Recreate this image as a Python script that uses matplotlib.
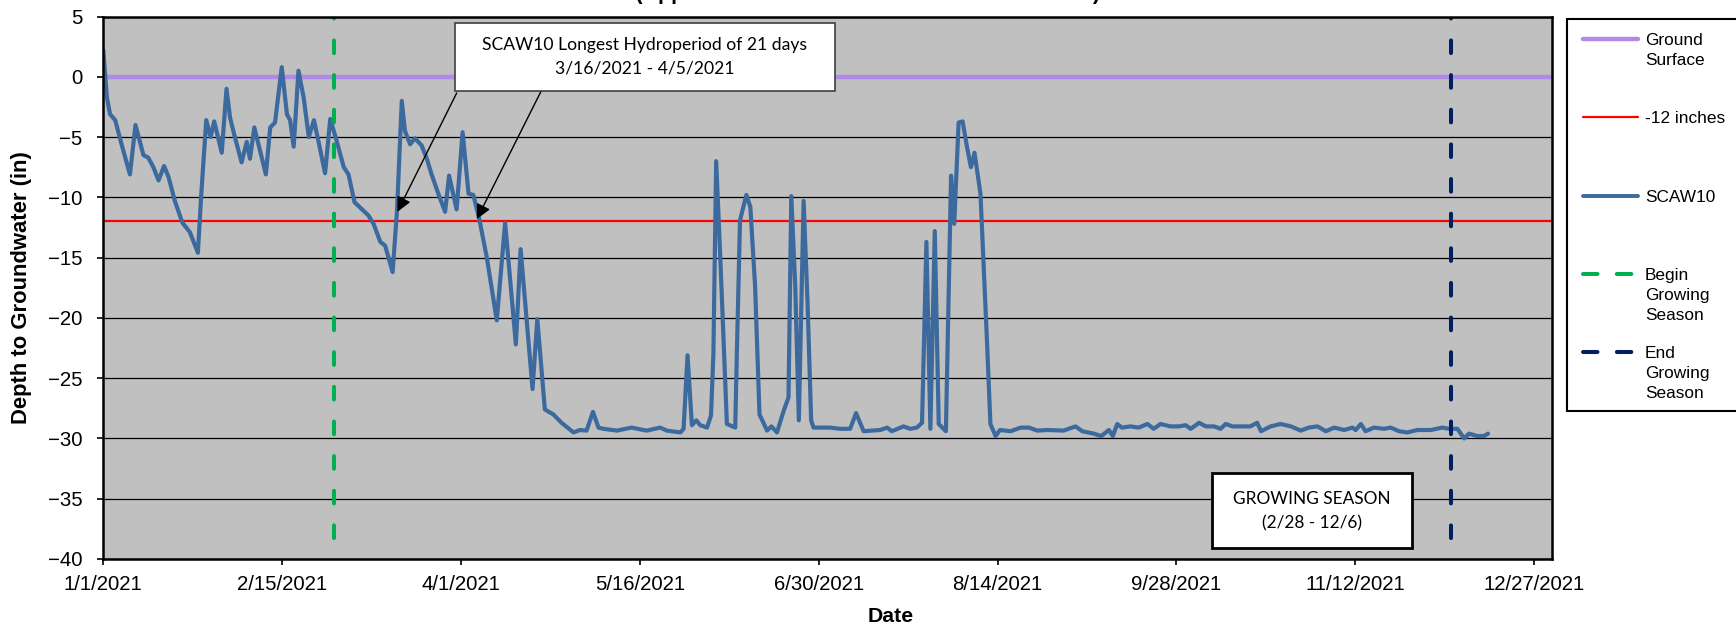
import datetime as dt

import matplotlib
matplotlib.use("Agg")
import matplotlib.pyplot as plt
import matplotlib.dates as mdates
from matplotlib.lines import Line2D
from matplotlib.patches import Rectangle
from matplotlib.ticker import FixedLocator, FuncFormatter

plt.rcParams["font.family"] = ["Liberation Sans", "DejaVu Sans"]

W, H = 1736, 631
START = dt.datetime(2021, 1, 1)

# SCAW10 readings, days after 1/1/2021 and depth (in)
obs_day = [
    0, 0.9, 1.7, 3.0, 4.6, 6.7, 8.1, 10.1, 11.3, 12.6, 13.9, 15.3, 16.4, 18.0,
    19.9, 21.8, 23.8, 24.6, 25.9, 27.0, 27.9, 29.8, 31.0, 31.9, 33.1, 34.8,
    36.1, 36.9, 38.0, 39.2, 40.9, 42.0, 43.2, 44.9, 46.2, 47.0, 47.9, 49.1,
    50.4, 51.7, 53.0, 54.1, 55.8, 57.1, 58.7, 60.5, 61.7, 63.2, 66.7, 68.0,
    69.7, 70.9, 72.8, 73.9, 75.1, 75.9, 77.2, 78.4, 80.1, 81.4, 82.6, 84.3,
    86.0, 87.0, 88.9, 90.4, 91.9, 93.1, 94.6, 96.5, 99.0, 101.1, 103.8, 105.0,
    108.0, 109.2, 111.1, 113.2, 115.3, 118.3, 119.9, 121.6, 123.2, 124.6,
    125.8, 129.2, 132.9, 136.7, 140.1, 141.8, 145.2, 146.0, 147.0, 148.1,
    149.2, 150.2, 151.9, 152.9, 153.5, 154.2, 155.2, 156.9, 159.0, 159.4,
    160.2, 161.8, 162.8, 164.0, 165.1, 167.0, 168.1, 169.5, 171.2, 172.4,
    173.1, 174.1, 175.0, 176.2, 177.2, 178.1, 178.7, 180.0, 182.9, 185.4,
    187.9, 189.4, 191.3, 195.5, 197.2, 198.4, 201.3, 203.0, 204.7, 206.0,
    207.1, 208.1, 209.2, 210.2, 212.0, 213.3, 214.1, 215.2, 216.2, 217.3,
    218.3, 219.2, 220.7, 222.4, 223.2, 224.5, 225.6, 228.3, 230.8, 232.9,
    235.0, 237.6, 241.6, 244.6, 246.3, 249.2, 251.1, 253.0, 254.0, 255.1,
    256.3, 258.4, 260.5, 262.7, 264.3, 266.0, 268.5, 270.6, 272.3, 273.6,
    275.7, 277.4, 279.5, 281.1, 282.4, 284.1, 286.6, 288.6, 290.3, 291.3,
    293.7, 296.2, 298.8, 301.3, 303.3, 305.5, 307.6, 309.7, 312.2, 314.3,
    315.1, 316.4, 317.6, 319.7, 322.2, 323.9, 326.0, 328.1, 330.6, 334.0,
    336.9, 338.6, 340.7, 342.4, 343.6, 345.7, 347.4, 348.4,
]
depth_in = [
    2.2, -1.7, -3.1, -3.6, -5.6, -8.1, -4.0, -6.5, -6.7, -7.5, -8.6, -7.4,
    -8.3, -10.3, -12.1, -12.9, -14.6, -10.0, -3.6, -5.0, -3.7, -6.3, -1.0,
    -3.4, -5.0, -7.1, -5.4, -6.8, -4.2, -5.8, -8.1, -4.2, -3.8, 0.8, -3.1,
    -3.6, -5.8, 0.5, -1.7, -5.0, -3.6, -5.3, -8.0, -3.5, -5.3, -7.5, -8.1,
    -10.4, -11.5, -12.2, -13.7, -14.0, -16.2, -11.1, -2.0, -4.5, -5.6, -5.1,
    -5.7, -6.8, -8.1, -9.7, -11.2, -8.2, -11.0, -4.6, -9.7, -9.8, -11.8,
    -15.0, -20.2, -12.1, -22.2, -14.3, -25.9, -20.1, -27.6, -28.0, -28.7,
    -29.5, -29.3, -29.35, -27.8, -29.1, -29.2, -29.35, -29.1, -29.35, -29.1,
    -29.35, -29.5, -29.2, -23.1, -28.9, -28.5, -28.9, -29.1, -28.1, -23.0,
    -7.0, -14.7, -28.8, -29.1, -23.0, -11.9, -9.8, -10.8, -17.4, -28.0,
    -29.35, -29.0, -29.5, -27.7, -26.6, -9.9, -17.4, -28.5, -10.3, -18.8,
    -28.5, -29.1, -29.1, -29.1, -29.2, -29.2, -27.9, -29.4, -29.3, -29.1,
    -29.4, -29.0, -29.2, -29.1, -28.7, -13.7, -29.2, -12.8, -28.8, -29.4,
    -8.2, -12.2, -3.8, -3.7, -5.8, -7.5, -6.3, -9.7, -22.4, -28.8, -29.8,
    -29.3, -29.4, -29.1, -29.1, -29.35, -29.3, -29.35, -29.0, -29.4, -29.6,
    -29.8, -29.3, -29.8, -28.8, -29.1, -29.0, -29.1, -28.8, -29.2, -28.8,
    -29.0, -29.0, -28.9, -29.2, -28.7, -29.0, -29.0, -29.2, -28.8, -29.0,
    -29.0, -29.0, -28.7, -29.4, -29.0, -28.8, -29.0, -29.35, -29.1, -29.0,
    -29.4, -29.1, -29.3, -29.1, -29.3, -28.8, -29.4, -29.1, -29.2, -29.1,
    -29.4, -29.5, -29.3, -29.3, -29.1, -29.2, -29.2, -30.0, -29.6, -29.8,
    -29.8, -29.6,
]

ground_surface = 0
threshold_in = -12
season_begin = dt.datetime(2021, 2, 28)
season_end = dt.datetime(2021, 12, 6)
hydro_marks = [(dt.datetime(2021, 3, 16), -11.2), (dt.datetime(2021, 4, 5), -11.8)]
tick_dates = [START + dt.timedelta(days=45 * i) for i in range(9)]
y_ticks = list(range(-40, 6, 5))

C_GROUND = "#B18AE8"
C_RED = "#FF0000"
C_SCAW = "#3D6A9E"
C_GREEN = "#00B050"
C_NAVY = "#002060"


def fx(px):
    return px / W


def fy(py):
    return 1 - py / H


fig = plt.figure(figsize=(W / 100, H / 100), dpi=100)
ax = fig.add_axes([fx(103.3), fy(559), fx(1552) - fx(103.3), fy(16.5) - fy(559)])
ax.set_facecolor("#C0C0C0")

dates = [START + dt.timedelta(days=d) for d in obs_day]
xmin, xmax = START, START + dt.timedelta(days=364.5)

for yv in y_ticks:
    ax.axhline(yv, color="black", lw=0.9, zorder=1)
ax.plot([xmin, xmax], [ground_surface] * 2, color=C_GROUND, lw=3.2, zorder=2)
ax.plot([xmin, xmax], [threshold_in] * 2, color=C_RED, lw=1.6, zorder=2)
ax.plot(dates, depth_in, color=C_SCAW, lw=3.0, zorder=4,
        solid_joinstyle="round", solid_capstyle="round")
for d, c in [(season_begin, C_GREEN), (season_end, C_NAVY)]:
    ax.plot([d, d], [5, -40], color=c, lw=2.9, zorder=5,
            linestyle=(2.78, (3.15, 5.45)), dash_capstyle="round")

# arrows for the hydroperiod callout
for (d, v), (sx, sy) in zip(hydro_marks, [(456.7, 93), (541.7, 90)]):
    ax.annotate("", xy=(d, v), xycoords="data",
                xytext=(fx(sx), fy(sy)), textcoords="figure fraction",
                arrowprops=dict(arrowstyle="-|>", color="black", lw=1.0,
                                mutation_scale=22, shrinkA=0, shrinkB=0),
                zorder=6)

ax.set_xlim(xmin, xmax)
ax.set_ylim(-40, 5)
ax.xaxis.set_major_locator(FixedLocator(mdates.date2num(tick_dates)))
ax.xaxis.set_major_formatter(FuncFormatter(
    lambda v, p: (lambda d: f"{d.month}/{d.day}/{d.year}")(mdates.num2date(v))))
ax.set_yticks(y_ticks)
ax.tick_params(axis="both", direction="out", length=4.3, width=1.2,
               labelsize=14.7, color="black")
ax.tick_params(axis="x", pad=7.5)
ax.tick_params(axis="y", pad=10.8)
for s in ax.spines.values():
    s.set_linewidth(1.8)
    s.set_color("black")
    s.set_zorder(7)

fig.text(fx(22), fy(287.7), "Depth to Groundwater (in)", rotation=90,
         ha="center", va="center", size=15.8, weight="bold")
fig.text(fx(891), fy(617), "Date", ha="center", va="center",
         size=15.3, weight="bold")
fig.text(fx(1100), fy(-1), "SCAW10 (Approximate Water Level Below the Surface)",
         ha="right", va="baseline", size=15.5, weight="bold")

# callout boxes
cal = ["Lato", "DejaVu Sans"]
fig.add_artist(Rectangle((fx(455), fy(91)), fx(835) - fx(455), fy(23) - fy(91),
                         transform=fig.transFigure, facecolor="white",
                         edgecolor="#404040", lw=1.2, zorder=8))
fig.text(fx(645), fy(45), "SCAW10 Longest Hydroperiod of 21 days",
         ha="center", va="center", size=12.6, family=cal, zorder=9)
fig.text(fx(645), fy(69), "3/16/2021 - 4/5/2021",
         ha="center", va="center", size=12.6, family=cal, zorder=9)

fig.add_artist(Rectangle((fx(1211.7), fy(547.7)), fx(1412.3) - fx(1211.7),
                         fy(473.3) - fy(547.7), transform=fig.transFigure,
                         facecolor="white", edgecolor="black", lw=2.0, zorder=8))
fig.text(fx(1312), fy(499), "GROWING SEASON", ha="center", va="center",
         size=12.4, family=cal, zorder=9)
fig.text(fx(1312), fy(523), "(2/28 - 12/6)", ha="center", va="center",
         size=12.4, family=cal, zorder=9)

# legend drawn by hand so the handles sit on the first text line
fig.add_artist(Rectangle((fx(1567.4), fy(410.7)), fx(1745) - fx(1567.4),
                         fy(19.3) - fy(410.7), transform=fig.transFigure,
                         facecolor="white", edgecolor="black", lw=1.5, zorder=8))
legend_rows = [
    (39.3, ["Ground", "Surface"], dict(color=C_GROUND, lw=3.2)),
    (117.3, ["-12 inches"], dict(color=C_RED, lw=1.6)),
    (195.7, ["SCAW10"], dict(color=C_SCAW, lw=2.8)),
    (274.0, ["Begin", "Growing", "Season"],
     dict(color=C_GREEN, lw=2.9, linestyle=(0, (3.6, 4.8)), dash_capstyle="round")),
    (352.3, ["End", "Growing", "Season"],
     dict(color=C_NAVY, lw=2.9, linestyle=(0, (3.6, 4.8)), dash_capstyle="round")),
]
for y0, lines, style in legend_rows:
    fig.add_artist(Line2D([fx(1583), fx(1638)], [fy(y0), fy(y0)],
                          transform=fig.transFigure, zorder=9,
                          solid_capstyle="round", **style))
    for i, t in enumerate(lines):
        fig.text(fx(1645), fy(y0 + 20 * i), t, ha="left", va="center_baseline",
                 size=12.4, zorder=9)

fig.savefig("out.png", dpi=100)
